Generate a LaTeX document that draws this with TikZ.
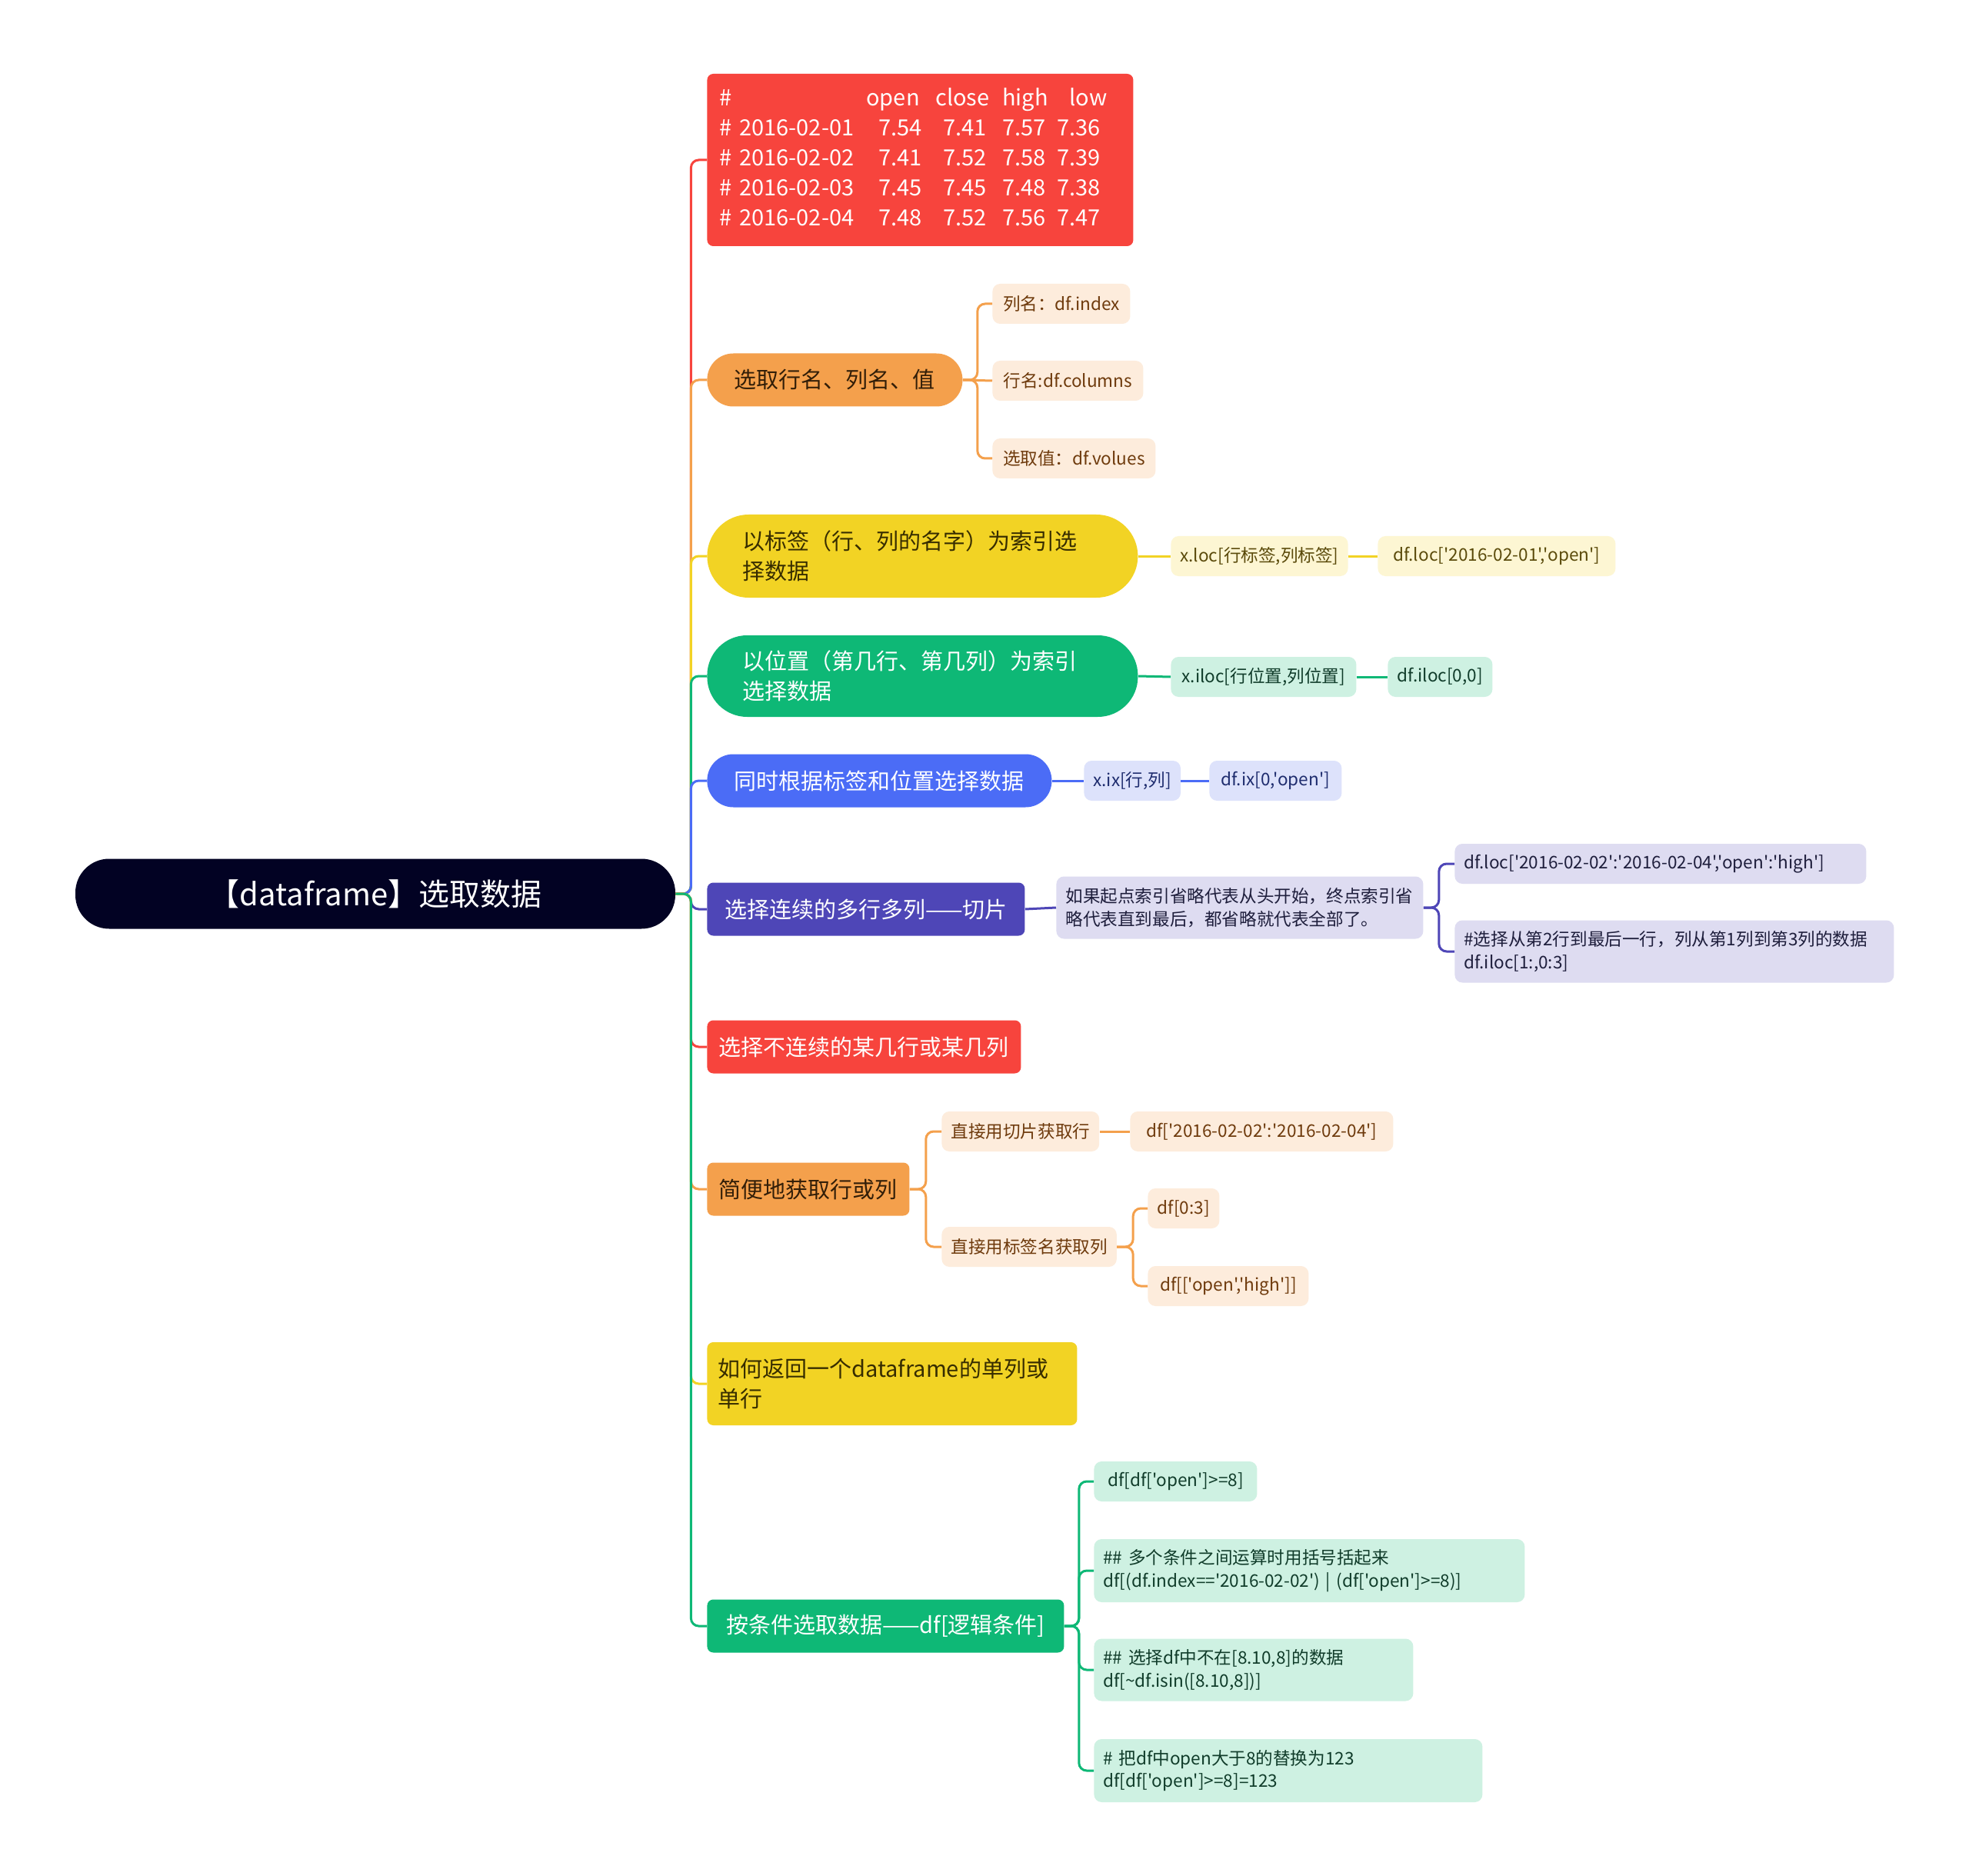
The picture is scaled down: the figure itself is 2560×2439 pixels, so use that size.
\documentclass[tikz,border=0pt]{standalone}
\usepackage{fontspec}
\setmainfont{Noto Sans CJK SC}[Ligatures=TeXOff]
\usepackage{xcolor}
\usepackage{tikz}
\usetikzlibrary{positioning}
\definecolor{mynavy}{RGB}{2,2,35}
\definecolor{myred}{RGB}{247,68,61}
\definecolor{myorange}{RGB}{244,160,76}
\definecolor{myyellow}{RGB}{242,211,36}
\definecolor{mygreen}{RGB}{14,184,118}
\definecolor{myblue}{RGB}{75,108,246}
\definecolor{myindigo}{RGB}{78,70,183}
\definecolor{lfpeach}{RGB}{253,236,220}
\definecolor{lfyellow}{RGB}{253,246,211}
\definecolor{lfgreen}{RGB}{206,241,226}
\definecolor{lfblue}{RGB}{221,226,251}
\definecolor{lflav}{RGB}{222,220,241}
\definecolor{txtbrown}{RGB}{50,30,8}
\definecolor{txtolive}{RGB}{55,45,0}
\definecolor{lfbrown}{RGB}{110,58,12}
\definecolor{lfolive}{RGB}{90,74,10}
\definecolor{lfdkgreen}{RGB}{16,60,42}
\definecolor{lfdkblue}{RGB}{30,44,110}
\definecolor{lfdark}{RGB}{30,30,60}
\tikzset{
  link/.style={line width=1.5pt, rounded corners=5pt},
  rootnode/.style={fill=mynavy, text=white, rectangle, rounded corners=22pt, minimum width=390pt, minimum height=45.5pt, font=\fontsize{20}{24}\selectfont},
  tblbox/.style={fill=myred, text=white, rectangle, rounded corners=4pt, anchor=west, align=left, text width=261pt, inner xsep=8pt, minimum height=112pt, font=\fontsize{14.5}{19.5}\selectfont},
  pill/.style={rectangle, rounded corners=17pt, anchor=west, minimum height=34.5pt, inner xsep=10pt, font=\fontsize{14.5}{19.5}\selectfont},
  mbox/.style={rectangle, rounded corners=4pt, anchor=west, minimum height=34.5pt, inner xsep=7pt, font=\fontsize{14.5}{19.5}\selectfont},
  leaf/.style={rectangle, rounded corners=5pt, anchor=west, minimum height=26pt, inner xsep=6pt, inner ysep=3pt, align=left, font=\fontsize{11.3}{14.7}\selectfont}
}
\begin{document}
\begin{tikzpicture}[x=0.5pt, y=-0.5pt]
  \fill[white] (0,0) rectangle (2560,2439);
  \useasboundingbox (0,0) rectangle (2560,2439);

  % Root
  \node [rootnode] (root) at (488,1162) {【dataframe】选取数据};

  % Main branches
  \node [tblbox] (tbl) at (919,208) {%
    \begin{tabular}{@{}p{13pt}@{}p{90.5pt}@{}p{42pt}@{}p{38.5pt}@{}p{35.5pt}@{}l@{}}
    \# & & \hspace*{-8pt}open & \hspace*{-5pt}close & high & \hspace*{8pt}low\\
    \# & 2016-02-01 & 7.54 & 7.41 & 7.57 & 7.36\\
    \# & 2016-02-02 & 7.41 & 7.52 & 7.58 & 7.39\\
    \# & 2016-02-03 & 7.45 & 7.45 & 7.48 & 7.38\\
    \# & 2016-02-04 & 7.48 & 7.52 & 7.56 & 7.47
    \end{tabular}};
  \node [pill, fill=myorange, text=txtbrown, minimum width=166pt] (names) at (919,494) {选取行名、列名、值};
  \node [pill, fill=myyellow, text=txtolive, rounded corners=27pt, minimum height=54pt, align=left, text width=234pt, inner xsep=23pt] (bylabel) at (919,723) {以标签（行、列的名字）为索引选\\择数据};
  \node [pill, fill=mygreen, text=white, rounded corners=26pt, minimum height=53pt, align=left, text width=234pt, inner xsep=23pt] (bypos) at (919,879) {以位置（第几行、第几列）为索引\\选择数据};
  \node [pill, fill=myblue, text=white, minimum width=224pt] (bymix) at (919,1015) {同时根据标签和位置选择数据};
  \node [mbox, fill=myindigo, text=white, minimum width=206.5pt] (slice) at (919,1182) {选择连续的多行多列——切片};
  \node [mbox, fill=myred, text=white, minimum width=204pt] (pick) at (919,1361) {选择不连续的某几行或某几列};
  \node [mbox, fill=myorange, text=txtbrown, minimum width=131.5pt] (quick) at (919,1546) {简便地获取行或列};
  \node [mbox, fill=myyellow, text=txtolive, minimum height=54pt, align=left, text width=226.5pt] (single) at (919,1799) {如何返回一个dataframe的单列或\\单行};
  \node [mbox, fill=mygreen, text=white, minimum width=232pt] (cond) at (919,2114) {按条件选取数据——df[逻辑条件]};

  % Leaves
  \node [leaf, fill=lfpeach, text=lfbrown, minimum width=89.5pt] (idx) at (1290,395) {列名：df.index};
  \node [leaf, fill=lfpeach, text=lfbrown, minimum width=98pt] (cols) at (1290,495) {行名:df.columns};
  \node [leaf, fill=lfpeach, text=lfbrown, minimum width=106pt] (vals) at (1290,596) {选取值：df.volues};

  \node [leaf, fill=lfyellow, text=lfolive, minimum width=113.5pt] (locfmt) at (1522,723) {x.loc[行标签,列标签]};
  \node [leaf, fill=lfyellow, text=lfolive, minimum width=154.5pt] (locex) at (1791,723) {df.loc['2016-02-01','open']};

  \node [leaf, fill=lfgreen, text=lfdkgreen, minimum width=120.5pt] (ilocfmt) at (1522,880) {x.iloc[行位置,列位置]};
  \node [leaf, fill=lfgreen, text=lfdkgreen, minimum width=68pt] (ilocex) at (1804,880) {df.iloc[0,0]};

  \node [leaf, fill=lfblue, text=lfdkblue, minimum width=61pt] (ixfmt) at (1409,1015) {x.ix[行,列]};
  \node [leaf, fill=lfblue, text=lfdkblue, minimum width=86pt] (ixex) at (1572,1015) {df.ix[0,'open']};

  \node [leaf, fill=lflav, text=lfdark, text width=226.5pt, minimum height=40.5pt] (omit) at (1373,1180) {如果起点索引省略代表从头开始，终点索引省\\略代表直到最后，都省略就代表全部了。};
  \node [leaf, fill=lflav, text=lfdark, text width=255.5pt] (locrng) at (1891,1123) {df.loc['2016-02-02':'2016-02-04','open':'high']};
  \node [leaf, fill=lflav, text=lfdark, text width=273.5pt, minimum height=40.5pt] (ilocrng) at (1891,1237) {\#选择从第2行到最后一行，列从第1列到第3列的数据\\df.iloc[1:,0:3]};

  \node [leaf, fill=lfpeach, text=lfbrown, minimum width=101.5pt] (rowcut) at (1224,1471) {直接用切片获取行};
  \node [leaf, fill=lfpeach, text=lfbrown, minimum width=171pt] (rowex) at (1469,1471) {df['2016-02-02':'2016-02-04']};
  \node [leaf, fill=lfpeach, text=lfbrown, minimum width=113pt] (colname) at (1224,1621) {直接用标签名获取列};
  \node [leaf, fill=lfpeach, text=lfbrown, minimum width=46.5pt] (colone) at (1492,1571) {df[0:3]};
  \node [leaf, fill=lfpeach, text=lfbrown, minimum width=104.5pt] (coltwo) at (1492,1672) {df[['open','high']]};

  \node [leaf, fill=lfgreen, text=lfdkgreen, minimum width=106pt] (ge) at (1422,1926) {df[df['open']>=8]};
  \node [leaf, fill=lfgreen, text=lfdkgreen, text width=268pt, minimum height=41pt] (multi) at (1422,2042) {\#\# 多个条件之间运算时用括号括起来\\df[(df.index=='2016-02-02') | (df['open']>=8)]};
  \node [leaf, fill=lfgreen, text=lfdkgreen, text width=195.5pt, minimum height=40.5pt] (notin) at (1422,2171) {\#\# 选择df中不在[8.10,8]的数据\\df[\textasciitilde df.isin([8.10,8])]};
  \node [leaf, fill=lfgreen, text=lfdkgreen, text width=240.5pt, minimum height=41pt] (repl) at (1422,2302) {\# 把df中open大于8的替换为123\\df[df['open']>=8]=123};

  % Spine, upper half (farthest first)
  \draw [link, myred] (root.east) -- ++(20,0) |- (tbl.west);
  \draw [link, myorange] (root.east) -- ++(20,0) |- (names.west);
  \draw [link, myyellow] (root.east) -- ++(20,0) |- (bylabel.west);
  \draw [link, mygreen] (root.east) -- ++(20,0) |- (bypos.west);
  \draw [link, myblue] (root.east) -- ++(20,0) |- (bymix.west);
  % Spine, lower half (nearest first)
  \draw [link, myindigo] (root.east) -- ++(20,0) |- (slice.west);
  \draw [link, myred] (root.east) -- ++(20,0) |- (pick.west);
  \draw [link, myorange] (root.east) -- ++(20,0) |- (quick.west);
  \draw [link, myyellow] (root.east) -- ++(20,0) |- (single.west);
  \draw [link, mygreen] (root.east) -- ++(20,0) |- (cond.west);

  % Second level
  \draw [link, myorange] (names.east) -- ++(19,0) |- (idx.west);
  \draw [link, myorange] (names.east) -- (cols.west);
  \draw [link, myorange] (names.east) -- ++(19,0) |- (vals.west);
  \draw [link, myyellow] (bylabel.east) -- (locfmt.west);
  \draw [link, myyellow] (locfmt.east) -- (locex.west);
  \draw [link, mygreen] (bypos.east) -- (ilocfmt.west);
  \draw [link, mygreen] (ilocfmt.east) -- (ilocex.west);
  \draw [link, myblue] (bymix.east) -- (ixfmt.west);
  \draw [link, myblue] (ixfmt.east) -- (ixex.west);
  \draw [link, myindigo] (slice.east) -- (omit.west);
  \draw [link, myindigo] (omit.east) -- ++(20,0) |- (locrng.west);
  \draw [link, myindigo] (omit.east) -- ++(20,0) |- (ilocrng.west);
  \draw [link, myorange] (quick.east) -- ++(21,0) |- (rowcut.west);
  \draw [link, myorange] (quick.east) -- ++(21,0) |- (colname.west);
  \draw [link, myorange] (rowcut.east) -- (rowex.west);
  \draw [link, myorange] (colname.east) -- ++(21,0) |- (colone.west);
  \draw [link, myorange] (colname.east) -- ++(21,0) |- (coltwo.west);
  \draw [link, mygreen] (cond.east) -- ++(19,0) |- (ge.west);
  \draw [link, mygreen] (cond.east) -- ++(19,0) |- (multi.west);
  \draw [link, mygreen] (cond.east) -- ++(19,0) |- (notin.west);
  \draw [link, mygreen] (cond.east) -- ++(19,0) |- (repl.west);
\end{tikzpicture}
\end{document}
